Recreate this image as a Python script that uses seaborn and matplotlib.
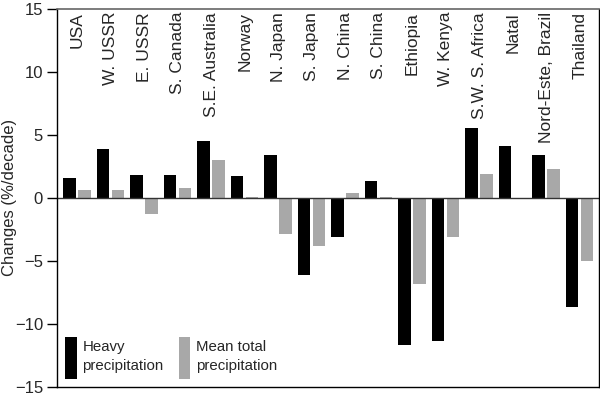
import pandas as pd
import numpy as np
import matplotlib
matplotlib.use("Agg")
import matplotlib.pyplot as plt
import seaborn as sns

# ===============================
# Data
# ===============================
regions = ['USA', 'W. USSR', 'E. USSR', 'S. Canada', 'S.E. Australia', 'Norway',
           'N. Japan', 'S. Japan', 'N. China', 'S. China', 'Ethiopia', 'W. Kenya',
           'S.W. S. Africa', 'Natal', 'Nord-Este, Brazil', 'Thailand']
heavy = [1.55, 3.9, 1.8, 1.8, 4.5, 1.75, 3.4, -6.15, -3.1, 1.3, -11.7, -11.4,
         5.55, 4.1, 3.4, -8.65]
mean_total = [0.65, 0.65, -1.3, 0.75, 3.0, 0.1, -2.9, -3.8, 0.35, 0.1, -6.8, -3.1,
              1.85, -0.05, 2.3, -5.0]
series_names = ['Heavy\nprecipitation', 'Mean total\nprecipitation']
yticks = [-15, -10, -5, 0, 5, 10, 15]

df = pd.DataFrame({
    'region': regions * 2,
    'change': heavy + mean_total,
    'series': [series_names[0]] * len(regions) + [series_names[1]] * len(regions),
})

# ===============================
# Plot
# ===============================
sns.set_style('white')
plt.rcParams['font.family'] = ['Liberation Sans', 'DejaVu Sans']

fig = plt.figure(figsize=(6.0, 3.98), dpi=100)
ax = fig.add_axes([0.095, 0.028, 0.903, 0.950])

sns.barplot(data=df, x='region', y='change', hue='series', order=regions,
            hue_order=series_names, palette=['black', '#a8a8a8'], saturation=1,
            width=0.9, gap=0.17, errorbar=None, linewidth=0, ax=ax)

ax.axhline(0, color='#333333', lw=1.0, zorder=1)

# region names written inside the top of the axes
for i, name in enumerate(regions):
    ax.text(i, 14.75, name, rotation=90, ha='center', va='top', fontsize=12.5)

ax.set_xlim(-0.6, 15.57)
ax.set_ylim(-15, 15)
ax.set_xticks([])
ax.set_xlabel('')
ax.set_yticks(yticks)
ax.set_yticklabels([f'{t}'.replace('-', '\u2212') for t in yticks], fontsize=12)
ax.tick_params(axis='y', direction='out', length=7, width=1, color='black',
               left=True, pad=3)
ax.set_ylabel('Changes (%/decade)', fontsize=12)
ax.yaxis.set_label_coords(-0.074, 0.5)

for side in ['left', 'right', 'bottom']:
    ax.spines[side].set_color('black')
    ax.spines[side].set_linewidth(1)
ax.spines['top'].set_color('#666666')
ax.spines['top'].set_linewidth(1.2)

handles, labels = ax.get_legend_handles_labels()
leg = ax.legend(handles, labels, loc='lower left', ncol=2, frameon=False,
                fontsize=10.8, handlelength=0.75, handleheight=3.9,
                handletextpad=0.4, columnspacing=1.0, borderaxespad=0.45,
                borderpad=0.1)
for t in leg.get_texts():
    t.set_linespacing(1.45)

fig.savefig('out.png', dpi=100)
